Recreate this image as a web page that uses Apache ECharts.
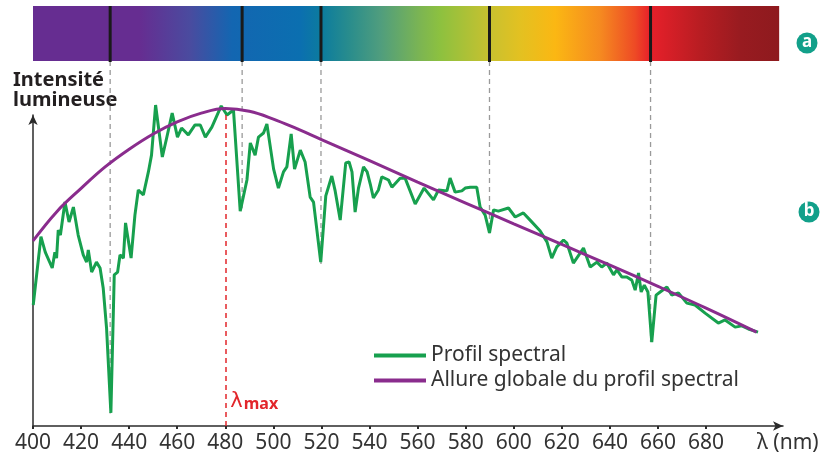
<!DOCTYPE html>
<html>
<head>
<meta charset="utf-8">
<script src="https://cdn.jsdelivr.net/npm/echarts@6/dist/echarts.min.js"></script>
<style>
html, body { margin: 0; padding: 0; background: #fff; }
#chart { width: 825px; height: 459px; }
</style>
</head>
<body>
<div id="chart"></div>
<script>
// longueurs d'onde (nm) et intensité relue sur le profil
const wavelengths = [400.1,403.3,405.1,408.0,409.1,409.8,410.5,411.4,413.3,415.0,416.8,418.8,420.9,422.3,423.0,424.4,426.4,427.9,429.2,430.6,
  432.4,433.8,435.2,436.2,437.6,438.5,440.8,442.4,443.8,445.9,448.0,449.3,451.0,453.8,455.6,457.9,460.1,461.8,464.6,467.4,
  469.6,471.7,474.4,478.3,480.7,483.4,486.2,489.0,490.4,492.4,493.8,495.9,497.3,500.1,502.1,504.2,505.6,507.4,508.8,511.2,
  513.2,515.3,516.7,519.7,521.8,524.3,525.7,527.8,530.1,531.5,532.7,534.0,535.4,537.5,539.0,540.3,541.6,543.7,545.1,547.9,
  549.3,552.7,554.8,559.0,562.7,566.6,568.7,572.2,573.5,575.6,578.4,579.8,581.9,584.6,586.0,588.1,589.9,591.6,593.6,597.8,
  600.6,604.0,606.8,611.0,613.8,615.8,617.9,620.7,622.1,624.8,629.0,631.8,634.6,636.6,638.7,641.5,642.9,645.0,647.0,649.1,
  650.5,651.9,653.0,654.3,655.8,657.4,659.2,660.9,663.7,665.7,668.5,672.0,675.4,679.6,685.1,687.9,692.1,694.9,697.6,701.6]
const profil = [38.9,60.9,55.9,50.8,55.9,54.0,63.0,61.4,72.0,65.6,70.4,61.4,55.0,52.7,56.6,49.5,52.7,50.8,44.4,31.5,
  4.2,48.6,49.5,55.0,54.0,65.3,54.0,67.8,75.9,74.3,81.7,87.1,103.2,86.5,92.6,100.6,92.9,95.8,93.6,96.8,
  96.8,92.9,96.1,102.9,100.0,101.6,69.1,79.1,91.0,87.1,92.9,94.2,97.1,82.6,76.5,81.7,83.3,93.9,82.6,88.7,
  84.9,73.6,72.0,52.7,74.0,80.4,75.6,66.2,84.6,84.9,81.7,68.8,76.5,83.3,81.7,77.8,73.3,75.9,80.1,79.1,
  76.8,79.7,79.7,71.4,76.5,72.7,75.9,75.6,79.7,75.2,75.6,76.5,76.8,76.8,70.4,67.8,62.1,69.5,69.1,70.1,
  67.2,68.5,66.2,62.7,59.2,54.0,57.6,59.8,58.8,52.4,57.2,51.1,52.7,51.1,52.4,48.6,50.2,47.9,47.9,46.9,
  43.7,49.2,43.1,45.3,43.1,27.0,42.1,43.1,44.7,42.1,42.8,39.5,38.9,36.3,33.1,34.1,31.8,32.2,31.2,30.2]

// allure globale
const allureNm = [400,410,420,430,440,450,460,470,480,490,500,510,520,530,540,560,580,600,620,640,660,680,701]
const allure = [59.5,69.0,76.4,83.3,89.0,93.9,97.8,100.6,102.1,101.2,98.7,95.5,92.1,88.7,85.3,78.4,71.7,65.0,58.4,51.7,44.9,37.9,30.2]

// raies du spectre et bas des pointillés
const raies = [432.1, 487.0, 519.8, 589.9, 656.9]
const raiesBas = [4, 70, 52, 62, 27]
const spectreBornes = [400, 710.4]
const lambdaMax = 480
const xTicks = [400,420,440,460,480,500,520,540,560,580,600,620,640,660,680]

const spectreStops = [
  [0, '#662d91'], [0.143, '#662d91'], [0.21, '#4a4b9f'], [0.267, '#1366b1'],
  [0.358, '#0b6fb0'], [0.387, '#0c7c9e'], [0.425, '#2a8d8c'], [0.465, '#4f9d7e'],
  [0.519, '#7cb552'], [0.546, '#8dc13f'], [0.613, '#c9c12f'], [0.653, '#e3c121'],
  [0.70, '#fbb713'], [0.76, '#f58a20'], [0.807, '#ee4a25'], [0.827, '#e8202a'],
  [0.894, '#b81d22'], [0.948, '#981b20'], [1, '#8e1a1e']
]

const VERT = '#17a04e'
const VIOLET = '#8a2c8d'
const ROUGE = '#e2262b'
const TEAL = '#12a08a'
const FONT = 'Noto Sans'

const chart = echarts.init(document.getElementById('chart'))

const option = {
  animation: false,
  textStyle: { fontFamily: FONT },
  grid: [
    { left: 33, right: 42, top: 115, bottom: 33 },
    { left: 33, right: 42, top: 6, height: 55 }
  ],
  xAxis: [
    {
      type: 'value', gridIndex: 0, min: 400, max: 712, interval: 20,
      axisLine: { symbol: ['none', 'arrow'], symbolSize: [7, 10], lineStyle: { color: '#2b2b2b', width: 1.5 } },
      axisTick: { customValues: xTicks, length: 3, lineStyle: { color: '#2b2b2b', width: 2 } },
      axisLabel: {
        customValues: xTicks, fontSize: 21, color: '#333', margin: 7, fontFamily: FONT,
        formatter: v => (v <= 680 ? String(v) : '')
      },
      splitLine: { show: false }
    },
    { type: 'value', gridIndex: 1, min: 400, max: 712, show: false }
  ],
  yAxis: [
    {
      type: 'value', gridIndex: 0, min: 0, max: 100,
      axisLine: { show: true, symbol: ['none', 'arrow'], symbolSize: [7, 10], lineStyle: { color: '#2b2b2b', width: 1.5 } },
      axisTick: { show: false }, axisLabel: { show: false }, splitLine: { show: false }
    },
    { type: 'value', gridIndex: 1, min: 0, max: 1, show: false }
  ],
  legend: {
    orient: 'vertical', left: 369, top: 340,
    itemWidth: 52, itemHeight: 4, itemGap: 4, icon: 'rect',
    textStyle: { fontSize: 21, color: '#333', lineHeight: 21, fontFamily: FONT },
    data: ['Profil spectral', 'Allure globale du profil spectral']
  },
  series: [
    {
      // bande du spectre
      type: 'custom', xAxisIndex: 1, yAxisIndex: 1, silent: true,
      data: [spectreBornes],
      renderItem: (params, api) => {
        const p0 = api.coord([api.value(0), 1])
        const p1 = api.coord([api.value(1), 0])
        return {
          type: 'rect',
          shape: { x: p0[0], y: p0[1], width: p1[0] - p0[0], height: p1[1] - p0[1] },
          style: { fill: new echarts.graphic.LinearGradient(0, 0, 1, 0, spectreStops.map(s => ({ offset: s[0], color: s[1] }))) }
        }
      }
    },
    {
      // raies noires
      type: 'custom', xAxisIndex: 1, yAxisIndex: 1, silent: true,
      data: raies.map(r => [r]),
      renderItem: (params, api) => {
        const a = api.coord([api.value(0), 1])
        const b = api.coord([api.value(0), 0])
        return {
          type: 'line',
          shape: { x1: a[0], y1: a[1], x2: b[0], y2: b[1] + 1 },
          style: { stroke: '#1a1a1a', lineWidth: 3 }
        }
      }
    },
    {
      // pointillés gris
      type: 'custom', xAxisIndex: 0, yAxisIndex: 0, silent: true, z: 1,
      data: raies.map((r, i) => [r, raiesBas[i]]),
      renderItem: (params, api) => {
        const a = api.coord([api.value(0), 117.4])
        const b = api.coord([api.value(0), api.value(1)])
        return {
          type: 'line',
          shape: { x1: a[0], y1: a[1], x2: b[0], y2: b[1] },
          style: { stroke: '#9a9a9a', lineWidth: 1.3, lineDash: [5, 4] }
        }
      }
    },
    {
      name: 'Profil spectral', type: 'line', z: 3, clip: false,
      showSymbol: false, symbol: 'none',
      data: wavelengths.map((w, i) => [w, profil[i]]),
      itemStyle: { color: VERT },
      lineStyle: { color: VERT, width: 3 },
      markLine: {
        silent: true, symbol: 'none', label: { show: false },
        lineStyle: { color: ROUGE, type: [5, 4], width: 1.5 },
        data: [[{ coord: [lambdaMax, 0] }, { coord: [lambdaMax, 100] }]]
      },
      markPoint: {
        silent: true, symbolSize: 0,
        data: [{ coord: [lambdaMax, 7] }],
        label: {
          show: true, position: 'right', distance: 5,
          formatter: '{l|λ}{m|max}',
          rich: {
            l: { fontSize: 21, color: ROUGE, padding: [0, 1, 5, 0], fontFamily: 'DejaVu Sans' },
            m: { fontSize: 16, color: ROUGE, fontWeight: 'bold', fontFamily: FONT }
          }
        }
      }
    },
    {
      name: 'Allure globale du profil spectral', type: 'line', z: 4, clip: false,
      showSymbol: false, symbol: 'none', smooth: 0.4,
      data: allureNm.map((w, i) => [w, allure[i]]),
      itemStyle: { color: VIOLET },
      lineStyle: { color: VIOLET, width: 3 }
    }
  ],
  graphic: [
    {
      type: 'text', left: 13, top: 70,
      style: { text: 'Intensité\nlumineuse', font: 'bold 20px "Noto Sans"', lineHeight: 20, fill: '#231f20' }
    },
    {
      type: 'text', left: 757, top: 433,
      style: { text: 'λ (nm)', font: '21px "Noto Sans"', fill: '#333' }
    },
    { type: 'circle', shape: { cx: 807, cy: 43, r: 10.5 }, style: { fill: TEAL } },
    {
      type: 'text', x: 807, y: 42,
      style: { text: 'a', font: 'bold 17px "Noto Sans"', fill: '#fff', align: 'center', verticalAlign: 'middle' }
    },
    { type: 'circle', shape: { cx: 809, cy: 212, r: 10.5 }, style: { fill: TEAL } },
    {
      type: 'text', x: 809, y: 211,
      style: { text: 'b', font: 'bold 17px "Noto Sans"', fill: '#fff', align: 'center', verticalAlign: 'middle' }
    }
  ]
}

chart.setOption(option)
</script>
</body>
</html>
